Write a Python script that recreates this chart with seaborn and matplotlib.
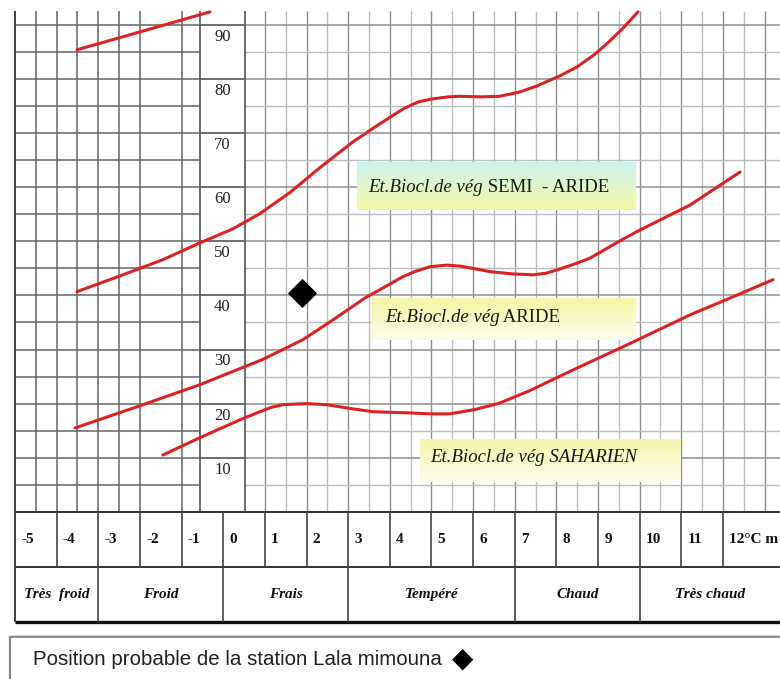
import numpy as np
import pandas as pd
import matplotlib
matplotlib.use("Agg")
import matplotlib.pyplot as plt
import seaborn as sns
from matplotlib.patches import Rectangle, FancyBboxPatch
from matplotlib.colors import LinearSegmentedColormap

sns.set_theme(style="white")
plt.rcParams['font.family'] = ['Liberation Serif', 'DejaVu Serif']

# ---- Emberger climagram: Q2 (vertical) against m, °C (horizontal) ----
q_ticks = [10, 20, 30, 40, 50, 60, 70, 80, 90]
m_ticks = [-5, -4, -3, -2, -1, 0, 1, 2, 3, 4, 5, 6, 7, 8, 9, 10, 11, 12]
m_tick_labels = ["-5", "-4", "-3", "-2", "-1", "0", "1", "2", "3", "4", "5",
                 "6", "7", "8", "9", "10", "11", "12°C m"]

# winter thermal classes (start, end in °C)
winter_names = ["Très  froid", "Froid", "Frais", "Tempéré", "Chaud", "Très chaud"]
winter_start = [-5, -3, 0, 3, 7, 10]
winter_end = [-3, 0, 3, 7, 10, 13.4]

# bioclimatic boundaries
humid_m = [-3.51, -2.00, -0.32]
humid_q = [85.4, 88.7, 92.4]

semiarid_m = [-3.51, -2.48, -1.45, -0.56, 0.23, 0.88, 1.60, 2.32, 3.12, 3.60, 4.00,
              4.35, 4.70, 5.01, 5.40, 5.68, 6.20, 6.64, 7.12, 7.53, 8.09, 8.49,
              8.93, 9.21, 9.60, 9.96]
semiarid_q = [40.7, 43.6, 46.6, 49.7, 52.3, 55.1, 59.0, 63.6, 68.4, 70.9, 72.9,
              74.6, 75.8, 76.3, 76.7, 76.8, 76.7, 76.8, 77.6, 78.7, 80.6, 82.2,
              84.6, 86.5, 89.4, 92.4]

arid_m = [-3.56, -2.00, -0.56, 0.93, 1.91, 2.64, 3.40, 3.75, 4.00, 4.30, 4.60,
          4.96, 5.37, 5.70, 5.92, 6.40, 6.90, 7.44, 7.75, 8.01, 8.40, 8.81,
          9.53, 10.01, 11.21, 12.41]
arid_q = [15.5, 19.6, 23.5, 28.1, 31.8, 35.5, 39.5, 41.0, 42.1, 43.4, 44.4,
          45.3, 45.6, 45.4, 45.1, 44.4, 44.0, 43.8, 44.1, 44.7, 45.7, 46.9,
          50.1, 52.1, 56.7, 62.8]

sahara_m = [-1.45, -0.56, 0.40, 0.88, 1.15, 1.43, 2.00, 2.49, 3.05, 3.60, 4.41,
            5.00, 5.44, 6.04, 6.64, 7.36, 8.01, 8.81, 9.60, 11.21, 12.29, 13.20]
sahara_q = [10.5, 13.7, 17.0, 18.5, 19.3, 19.8, 20.0, 19.8, 19.1, 18.5, 18.3,
            18.1, 18.1, 18.9, 20.1, 22.4, 24.8, 27.7, 30.5, 36.4, 39.9, 42.9]

station_name = "Lala mimouna"
station_m = [1.89]
station_q = [40.5]

# ---- figure ----
X0, X1 = -5.36, 13.37
Y0, Y1 = -30.9, 94.6
fig = plt.figure(figsize=(7.8, 6.79), dpi=100)
ax = fig.add_axes([0, 0, 1, 1])
ax.axis("off")

TOP = 92.6
COL_L, COL_R = -0.56, 0.52      # white strip holding the Q2 labels
LEFT = -5.0

# graph-paper grid, left block
left_v = [v for v in np.arange(-5.0, -0.9, 0.5) if abs(v + 1.5) > 1e-6]
ax.vlines(left_v, 0, TOP, color="#666666", lw=1.1, zorder=1)
ax.hlines(np.arange(5, 91, 5), LEFT, COL_L, color="#666666", lw=1.1, zorder=1)

# graph-paper grid, right block
right_v = np.arange(1.0, 13.6, 0.5)
major = [v for v in right_v if abs(v - round(v)) < 1e-6]
minor = [v for v in right_v if abs(v - round(v)) > 1e-6]
ax.vlines(minor, 0, TOP, color="#bdbdbd", lw=1.0, zorder=1)
ax.vlines(major, 0, TOP, color="#8f8f8f", lw=1.0, zorder=1)
ax.hlines(np.arange(5, 91, 10), COL_R, X1, color="#bdbdbd", lw=1.0, zorder=1)
ax.hlines(np.arange(10, 91, 10), COL_R, X1, color="#8f8f8f", lw=1.1, zorder=1)

# label strip
ax.add_patch(Rectangle((COL_L, 0), COL_R - COL_L, TOP, facecolor="white",
                       edgecolor="none", zorder=2))
ax.vlines([COL_L, COL_R], 0, TOP, color="#555555", lw=1.2, zorder=3)
ax.hlines(q_ticks, COL_L, COL_R, color="#555555", lw=1.2, zorder=3)
for q in q_ticks:
    ax.text((COL_L + COL_R) / 2, q - 2.2, str(q), ha="center", va="center",
            fontsize=12, color="#222222", zorder=3)


def gradient_box(x0, x1, y0, y1, top, bottom):
    cmap = LinearSegmentedColormap.from_list("box", [bottom, top])
    grad = np.linspace(0, 1, 64).reshape(-1, 1)
    ax.imshow(grad, extent=(x0, x1, y0, y1), origin="lower", cmap=cmap,
              aspect="auto", zorder=4, interpolation="bilinear")


def zone_label(x, y, parts, size=13.5):
    prev = None
    for txt, style in parts:
        if prev is None:
            prev = ax.text(x, y, txt, fontstyle=style, ha="left", va="center",
                           fontsize=size, color="#141a10", zorder=6)
        else:
            prev = ax.annotate(txt, xy=(1, y), xycoords=(prev, "data"),
                               fontstyle=style, ha="left", va="center",
                               fontsize=size, color="#141a10", zorder=6)


gradient_box(3.21, 9.89, 55.8, 64.5, "#cdf3ef", "#f4f6a6")
zone_label(3.48, 60.0, [("Et.Biocl.de vég", "italic"), (" SEMI  - ARIDE", "normal")])

gradient_box(3.57, 9.89, 31.8, 39.5, "#f6f6a4", "#fcfcee")
zone_label(3.88, 35.9, [("Et.Biocl.de vég", "italic"), (" ARIDE", "normal")])

gradient_box(4.72, 10.97, 5.5, 13.3, "#f6f6ac", "#fcfcec")
zone_label(4.96, 10.0, [("Et.Biocl.de vég SAHARIEN", "italic")])

# boundary curves
curve_style = dict(color="#dc2323", lw=2.2, sort=False, estimator=None,
                   legend=False, ax=ax, zorder=7)
for m, q in [(humid_m, humid_q), (semiarid_m, semiarid_q),
             (arid_m, arid_q), (sahara_m, sahara_q)]:
    sns.lineplot(data=pd.DataFrame({"m": m, "Q2": q}), x="m", y="Q2", **curve_style)

# station
sns.scatterplot(x=station_m, y=station_q, marker="D", s=190, color="black",
                edgecolor="black", ax=ax, zorder=8, legend=False)

# ---- class table under the diagram ----
R1 = -10.16
R2 = -20.3
ax.hlines([0], LEFT, X1, color="#333333", lw=1.4, zorder=5)
ax.hlines([R1], LEFT, X1, color="#333333", lw=1.4, zorder=5)
ax.hlines([R2], LEFT, X1, color="#111111", lw=2.4, zorder=5)
ax.vlines(m_ticks, R1, 0, color="#444444", lw=1.2, zorder=5)
ax.vlines(winter_start, R2, R1, color="#444444", lw=1.2, zorder=5)
ax.vlines([LEFT], R2, TOP, color="#444444", lw=1.4, zorder=5)
for m, lab in zip(m_ticks, m_tick_labels):
    ax.text(m + 0.15, R1 / 2, lab, ha="left", va="center", fontsize=11,
            fontweight="bold", color="#111111", zorder=6)
for name, a, b in zip(winter_names, winter_start, winter_end):
    ax.text((a + b) / 2, (R1 + R2) / 2, name, ha="center", va="center",
            fontsize=11, fontweight="bold", fontstyle="italic",
            color="#111111", zorder=6)

# legend panel
ax.add_patch(FancyBboxPatch((-5.12, -34), 19.5, 10.9,
                            boxstyle="round,pad=0,rounding_size=0.25",
                            facecolor="white", edgecolor="#8a8a8a", lw=1.6,
                            zorder=5, mutation_aspect=1 / 7.7))
leg = ax.text(-4.57, -27.3, "Position probable de la station " + station_name,
              ha="left", va="center", fontsize=14.8, color="#222222",
              family=["Liberation Sans", "DejaVu Sans"], zorder=6)
ax.annotate("\u25C6", xy=(1, -27.2), xycoords=(leg, "data"), xytext=(7, 0),
            textcoords="offset points", ha="left", va="center", fontsize=20,
            color="black", family=["DejaVu Sans"], zorder=6)

ax.set_xlim(X0, X1)
ax.set_ylim(Y0, Y1)
fig.savefig("out.png", dpi=100)
